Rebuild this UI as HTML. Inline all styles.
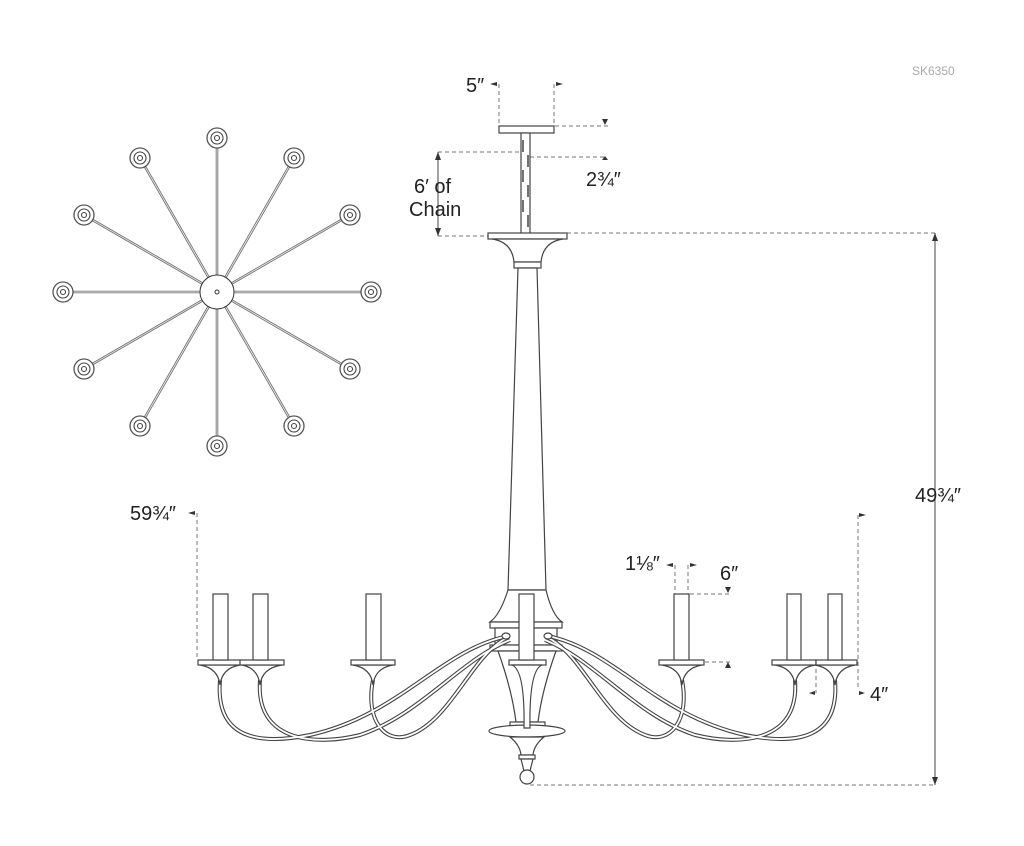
<!DOCTYPE html>
<html><head><meta charset="utf-8"><style>
html,body{margin:0;padding:0;background:#fff;}
svg{display:block;}
text{font-family:"Liberation Sans",sans-serif;fill:#222;}
</style></head><body>
<svg width="1024" height="846" viewBox="0 0 1024 846" xmlns="http://www.w3.org/2000/svg">
<rect width="1024" height="846" fill="#fff"/>
<text x="912" y="75" font-size="12" fill="#aaa" style="fill:#aaa">SK6350</text>

<!-- top view -->
<g fill="none">
<g id="sp" stroke="#777" stroke-width="2.6">
<line x1="217" y1="292" x2="217" y2="138"/>
<line x1="217" y1="292" x2="294" y2="158"/>
<line x1="217" y1="292" x2="350" y2="215"/>
<line x1="217" y1="292" x2="371" y2="292"/>
<line x1="217" y1="292" x2="350" y2="369"/>
<line x1="217" y1="292" x2="294" y2="426"/>
<line x1="217" y1="292" x2="217" y2="446"/>
<line x1="217" y1="292" x2="140" y2="426"/>
<line x1="217" y1="292" x2="84" y2="369"/>
<line x1="217" y1="292" x2="63" y2="292"/>
<line x1="217" y1="292" x2="84" y2="215"/>
<line x1="217" y1="292" x2="140" y2="158"/>
</g>
<g stroke="#fff" stroke-width="0.7">
<line x1="217" y1="292" x2="217" y2="138"/>
<line x1="217" y1="292" x2="294" y2="158"/>
<line x1="217" y1="292" x2="350" y2="215"/>
<line x1="217" y1="292" x2="371" y2="292"/>
<line x1="217" y1="292" x2="350" y2="369"/>
<line x1="217" y1="292" x2="294" y2="426"/>
<line x1="217" y1="292" x2="217" y2="446"/>
<line x1="217" y1="292" x2="140" y2="426"/>
<line x1="217" y1="292" x2="84" y2="369"/>
<line x1="217" y1="292" x2="63" y2="292"/>
<line x1="217" y1="292" x2="84" y2="215"/>
<line x1="217" y1="292" x2="140" y2="158"/>
</g>
<circle cx="217" cy="292" r="17" fill="#fff" stroke="#333"/>
<circle cx="217" cy="292" r="2" stroke="#333"/>
<g fill="#fff" stroke="#555" stroke-width="1.3">
<circle cx="217" cy="138" r="10"/><circle cx="294" cy="158" r="10"/><circle cx="350" cy="215" r="10"/><circle cx="371" cy="292" r="10"/><circle cx="350" cy="369" r="10"/><circle cx="294" cy="426" r="10"/><circle cx="217" cy="446" r="10"/><circle cx="140" cy="426" r="10"/><circle cx="84" cy="369" r="10"/><circle cx="63" cy="292" r="10"/><circle cx="84" cy="215" r="10"/><circle cx="140" cy="158" r="10"/>
</g>
<g stroke="#444" stroke-width="1.1">
<circle cx="217" cy="138" r="6"/><circle cx="294" cy="158" r="6"/><circle cx="350" cy="215" r="6"/><circle cx="371" cy="292" r="6"/><circle cx="350" cy="369" r="6"/><circle cx="294" cy="426" r="6"/><circle cx="217" cy="446" r="6"/><circle cx="140" cy="426" r="6"/><circle cx="84" cy="369" r="6"/><circle cx="63" cy="292" r="6"/><circle cx="84" cy="215" r="6"/><circle cx="140" cy="158" r="6"/>
<circle cx="217" cy="138" r="2.5"/><circle cx="294" cy="158" r="2.5"/><circle cx="350" cy="215" r="2.5"/><circle cx="371" cy="292" r="2.5"/><circle cx="350" cy="369" r="2.5"/><circle cx="294" cy="426" r="2.5"/><circle cx="217" cy="446" r="2.5"/><circle cx="140" cy="426" r="2.5"/><circle cx="84" cy="369" r="2.5"/><circle cx="63" cy="292" r="2.5"/><circle cx="84" cy="215" r="2.5"/><circle cx="140" cy="158" r="2.5"/>
</g>
</g>

<!-- dimension lines -->
<g stroke="#777" stroke-width="1" stroke-dasharray="4,3" fill="none">
<line x1="499" y1="84" x2="499" y2="126"/>
<line x1="554" y1="84" x2="554" y2="126"/>
<line x1="555" y1="126" x2="610" y2="126"/>
<line x1="438" y1="152" x2="520" y2="152"/>
<line x1="530" y1="157" x2="605" y2="157"/>
<line x1="438" y1="236" x2="520" y2="236"/>
<line x1="560" y1="233" x2="935" y2="233"/>
<line x1="530" y1="785" x2="935" y2="785"/>
<line x1="197" y1="513" x2="197" y2="660"/>
<line x1="858" y1="515" x2="858" y2="690"/>
<line x1="675" y1="565" x2="675" y2="594"/>
<line x1="688" y1="565" x2="688" y2="594"/>
<line x1="690" y1="594" x2="730" y2="594"/>
<line x1="705" y1="662" x2="730" y2="662"/>
<line x1="816" y1="662" x2="816" y2="693"/>
</g>
<g stroke="#444" stroke-width="1" fill="none">
<line x1="438" y1="152" x2="438" y2="236"/>
<line x1="935" y1="233" x2="935" y2="785"/>
</g>
<g fill="#333">
<path d="M435,160 l3,-8 l3,8z"/><path d="M435,228 l3,8 l3,-8z"/>
<path d="M932,241 l3,-8 l3,8z"/><path d="M932,777 l3,8 l3,-8z"/>
<path d="M490,84 l7,-2 v4z"/><path d="M563,84 l-7,-2 v4z"/>
<path d="M602,119 h6 l-3,6z"/><path d="M602,160 l3,-4 l3,4z"/>
<path d="M188,513 l7,-2 v4z"/><path d="M866,515 l-7,-2 v4z"/>
<path d="M666,565 l7,-2 v4z"/><path d="M697,565 l-7,-2 v4z"/>
<path d="M725,587 h6 l-3,6z"/><path d="M725,668 l3,-6 l3,6z"/>
<path d="M809,693 l6,-2 v4z"/><path d="M865,693 l-6,-2 v4z"/>
</g>

<g font-size="20">
<text x="466" y="92">5″</text>
<text x="414" y="193">6′ of</text>
<text x="409" y="216">Chain</text>
<text x="586" y="186">2¾″</text>
<text x="915" y="502">49¾″</text>
<text x="130" y="520">59¾″</text>
<text x="625" y="570">1⅛″</text>
<text x="720" y="580">6″</text>
<text x="870" y="701">4″</text>
</g>

<!-- chandelier -->
<g stroke="#444" stroke-width="1.2" fill="#fff">
<rect x="499" y="126" width="55" height="7"/>
<rect x="521" y="133" width="9" height="102" fill="#fff"/>
<g fill="none" stroke-width="1.5"><path d="M523,140v12M528,155v12M523,170v12M528,185v12M523,200v12M528,215v12"/></g>
<rect x="488" y="233" width="79" height="6"/>
<path d="M492,239 Q512,242 514,262 H541 Q543,242 563,239Z"/>
<rect x="514" y="262" width="27" height="6"/>
<path d="M518,268 L508,590 H546 L537,268Z"/>
<path d="M508,590 Q500,615 490,622 H562 Q552,615 546,590Z"/>
<rect x="490" y="622" width="72" height="6"/>
<rect x="495" y="628" width="62" height="17"/>
<rect x="490" y="645" width="72" height="6"/>
<path d="M498,651 Q512,690 516,722 H538 Q542,690 556,651Z"/>
<rect x="510" y="722" width="35" height="5"/>
<ellipse cx="527" cy="731" rx="38" ry="6"/>
<path d="M510,737 Q520,745 521,755 H533 Q534,745 544,737Z"/>
<rect x="519" y="755" width="16" height="4"/>
<path d="M521,759 L524,771 H530 L533,759Z"/>
<circle cx="527" cy="777" r="7"/>
</g>

<!-- arms -->
<g fill="none" stroke="#444" stroke-width="4"><path d="M220,680 C215,740 260,745 310,735 C400,715 440,650 508,636"/>
<path d="M260,680 C255,745 320,745 360,735 C420,715 460,660 510,640"/>
<path d="M373,680 C365,720 385,745 410,735 C450,720 470,660 503,640"/>
<path d="M835,680 C840,740 795,745 745,735 C655,715 615,650 548,636"/>
<path d="M795,680 C800,745 735,745 695,735 C635,715 595,660 545,640"/>
<path d="M682,680 C690,720 670,745 645,735 C605,720 585,660 552,640"/>
</g>
<g fill="none" stroke="#fff" stroke-width="1.8"><path d="M220,680 C215,740 260,745 310,735 C400,715 440,650 508,636"/>
<path d="M260,680 C255,745 320,745 360,735 C420,715 460,660 510,640"/>
<path d="M373,680 C365,720 385,745 410,735 C450,720 470,660 503,640"/>
<path d="M835,680 C840,740 795,745 745,735 C655,715 615,650 548,636"/>
<path d="M795,680 C800,745 735,745 695,735 C635,715 595,660 545,640"/>
<path d="M682,680 C690,720 670,745 645,735 C605,720 585,660 552,640"/>
</g>
<g stroke="#444" stroke-width="1.2" fill="#fff">
<ellipse cx="506" cy="636" rx="4" ry="3"/><ellipse cx="548" cy="636" rx="4" ry="3"/>
<path d="M200,665 Q218,668 220,685 Q222,668 240,665Z"/><rect x="198" y="660" width="44" height="5"/><rect x="213" y="594" width="15" height="66"/>
<path d="M242,665 Q258,668 260,685 Q262,668 282,665Z"/><rect x="240" y="660" width="44" height="5"/><rect x="253" y="594" width="15" height="66"/>
<path d="M353,665 Q371,668 373,685 Q375,668 393,665Z"/><rect x="351" y="660" width="44" height="5"/><rect x="366" y="594" width="15" height="66"/>
<path d="M662,665 Q680,668 682,685 Q684,668 702,665Z"/><rect x="659" y="660" width="45" height="5"/><rect x="674" y="594" width="15" height="66"/>
<path d="M775,665 Q793,668 795,685 Q797,668 815,665Z"/><rect x="772" y="660" width="44" height="5"/><rect x="787" y="594" width="14" height="66"/>
<path d="M815,665 Q833,668 835,685 Q837,668 855,665Z"/><rect x="816" y="660" width="41" height="5"/><rect x="828" y="594" width="14" height="66"/>
<rect x="509" y="660" width="37" height="5"/>
<path d="M512,665 Q525,670 524,728 H530 Q529,670 542,665Z"/>
<rect x="519" y="594" width="15" height="66"/>
</g>
</svg>
</body></html>
